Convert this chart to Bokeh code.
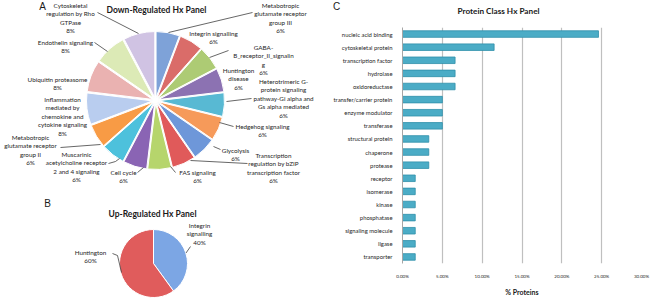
import math
from bokeh.plotting import figure
from bokeh.layouts import row, column
from bokeh.models import Range1d, PrintfTickFormatter
from bokeh.embed import file_html
from bokeh.resources import INLINE
from bokeh.core.properties import value

# ---------------- data ----------------
down_labels = [
    ["Metabotropic", "glutamate receptor", "group III", "6%"],
    ["Integrin signalling", "6%"],
    ["GABA-", "B_receptor_II_signalin", "g", "6%"],
    ["Huntington", "disease", "6%"],
    ["Heterotrimeric G-", "protein signaling", "pathway-Gi alpha and", "Gs alpha mediated", "6%"],
    ["Hedgehog signaling", "6%"],
    ["Glycolysis", "6%"],
    ["Transcription", "regulation by bZIP", "transcription factor", "6%"],
    ["FAS signaling", "6%"],
    ["Cell cycle", "6%"],
    ["Muscarinic", "acetylcholine receptor", "2 and 4 signaling", "6%"],
    ["Metabotropic", "glutamate receptor", "group II", "6%"],
    ["Inflammation", "mediated by", "chemokine and", "cytokine signaling", "8%"],
    ["Ubiquitin proteasome", "8%"],
    ["Endothelin signaling", "8%"],
    ["Cytoskeletal", "regulation by Rho", "GTPase", "8%"],
]
down_values = [3, 3, 3, 3, 3, 3, 3, 3, 3, 3, 3, 3, 4, 4, 4, 4]
down_colors = ["#7EA2D8", "#DA6C69", "#ADCB74", "#8C72B2", "#58B9D3", "#F69A5A",
               "#6E97D9", "#E05A5A", "#B6D56C", "#8A64B4", "#4DC1DC", "#F89B45",
               "#B9CDEF", "#EAB2B1", "#DCEAB6", "#D0C3E3"]

up_labels = [["Integrin", "signalling", "40%"], ["Huntington", "60%"]]
up_values = [40, 60]
up_colors = ["#7CA6E4", "#E05C5C"]

classes = ["nucleic acid binding", "cytoskeletal protein", "transcription factor",
           "hydrolase", "oxidoreductase", "transfer/carrier protein",
           "enzyme modulator", "transferase", "structural protein", "chaperone",
           "protease", "receptor", "isomerase", "kinase", "phosphatase",
           "signaling molecule", "ligase", "transporter"]
class_pct = [24.6, 11.5, 6.6, 6.6, 6.6, 5.0, 5.0, 5.0, 3.3, 3.3, 3.3,
             1.6, 1.6, 1.6, 1.6, 1.6, 1.6, 1.6]
x_ticks = [0, 5, 10, 15, 20, 25, 30]

FONT = value("Lato")
TXT = "#262626"

# ---------------- layout helpers ----------------
down_label_pos = [  # (center x, first line y) in panel pixels (y down)
    (280, 5), (213, 33), (263, 47), (238, 70), (283, 81), (262, 126),
    (235, 150), (273, 155), (197, 172), (123, 172), (76, 154), (30, 137),
    (62, 99), (57, 79), (65, 42), (70, 5)]
down_leaders = [
    [(252, 12), (168, 32)], None, [(228, 50), (209, 57)], None,
    [(251, 98), (226, 101)], [(233, 126), (219, 122)], [(220, 149), (213, 146)],
    [(247, 163), (190, 160)], [(175, 172), (170, 166)], [(137, 172), (143, 167)],
    [(108, 163), (115, 161), (119, 158)], [(60, 147), (100, 144)],
    None, None, [(94, 42), (107, 51)], [(97, 12), (138, 33)]]
up_label_pos = [(199, 35), (90, 62)]
up_leaders = [[(190, 56), (185.5, 62.5)], [(112, 63), (117, 65), (121, 82)]]


def blank(w, h):
    p = figure(width=w, height=h, x_range=Range1d(0, w), y_range=Range1d(0, h),
               output_backend="svg", toolbar_location=None, min_border=0,
               x_axis_type=None, y_axis_type=None)
    p.outline_line_color = None
    p.xgrid.visible = False
    p.ygrid.visible = False
    p.background_fill_color = "white"
    return p


def draw_pie(p, H, cx, cy, r, vals, colors, explode):
    total = float(sum(vals))
    cum = 0.0
    xs, ys, a0s, a1s = [], [], [], []
    for v in vals:
        a0 = math.pi / 2 - 2 * math.pi * (cum + v) / total
        a1 = math.pi / 2 - 2 * math.pi * cum / total
        mid = (a0 + a1) / 2
        xs.append(cx + explode * math.cos(mid))
        ys.append(H - cy + explode * math.sin(mid))
        a0s.append(a0)
        a1s.append(a1)
        cum += v
    p.wedge(x=xs, y=ys, radius=r - explode, start_angle=a0s, end_angle=a1s,
            fill_color=colors, line_color="white", line_width=1)


def draw_labels(p, H, labels, pos, leaders, size="6.3px", lh=8.4):
    tx, ty, tt = [], [], []
    for lines, (cx, y0) in zip(labels, pos):
        for i, s in enumerate(lines):
            tx.append(cx)
            ty.append(H - (y0 + i * lh))
            tt.append(s)
    p.text(x=tx, y=ty, text=tt, text_align="center", text_baseline="middle",
           text_font=FONT, text_font_size=size, text_color=TXT)
    lx, ly = [], []
    for ld in leaders:
        if ld:
            lx.append([a for a, b in ld])
            ly.append([H - b for a, b in ld])
    p.multi_line(xs=lx, ys=ly, line_color="#404040", line_width=0.8)


def heading(p, H, x, y, s, size="8.5px"):
    p.text(x=[x], y=[H - y], text=[s], text_align="center", text_baseline="middle",
           text_font=FONT, text_font_size=size, text_font_style="bold",
           text_color="#1a1a1a")


def letter(p, H, x, y, s):
    p.text(x=[x], y=[H - y], text=[s], text_align="center", text_baseline="middle",
           text_font=value("Liberation Sans"), text_font_size="10px",
           text_color="#1a1a1a")


# ---------------- panel A ----------------
HA = 190
pA = blank(330, HA)
draw_pie(pA, HA, 155, 100, 69, down_values, down_colors, 3)
draw_labels(pA, HA, down_labels, down_label_pos, down_leaders)
heading(pA, HA, 156, 9, "Down-Regulated Hx Panel")
letter(pA, HA, 42, 6, "A")

# ---------------- panel B ----------------
HB = 108
pB = blank(330, HB)
draw_pie(pB, HB, 153, 73, 34, up_values, up_colors, 0)
draw_labels(pB, HB, up_labels, up_label_pos, up_leaders)
heading(pB, HB, 152, 23, "Up-Regulated Hx Panel")
letter(pB, HB, 47, 13, "B")

# ---------------- panel C header ----------------
HT = 25
pT = blank(320, HT)
heading(pT, HT, 168, 10, "Protein Class Hx Panel", size="8.2px")
letter(pT, HT, 6, 6, "C")

# ---------------- panel C ----------------
pC = figure(width=320, height=273, y_range=list(reversed(classes)),
            x_range=Range1d(0, 30), output_backend="svg", toolbar_location=None,
            min_border_left=71, min_border_right=9, min_border_top=2,
            min_border_bottom=32)
pC.outline_line_color = None
pC.hbar(y=classes, right=class_pct, left=0, height=0.5,
        fill_color="#4BACC6", line_color="#2F8FAA", line_width=0.8)
pC.ygrid.visible = False
pC.xgrid.grid_line_color = "#BFBFBF"
pC.xgrid.grid_line_width = 1.2
pC.xaxis.ticker = x_ticks
pC.xaxis.formatter = PrintfTickFormatter(format="%.2f%%")
pC.xaxis.axis_line_color = None
pC.xaxis.major_tick_line_color = None
pC.xaxis.minor_tick_line_color = None
pC.xaxis.major_label_text_font = "Lato"
pC.xaxis.major_label_text_font_size = "4.5px"
pC.xaxis.major_label_text_color = TXT
pC.xaxis.major_label_standoff = 4
pC.xaxis.axis_label = "% Proteins"
pC.xaxis.axis_label_text_font = "Lato"
pC.xaxis.axis_label_text_font_size = "7px"
pC.xaxis.axis_label_text_font_style = "bold"
pC.xaxis.axis_label_text_color = "#1a1a1a"
pC.xaxis.axis_label_standoff = 6
pC.yaxis.axis_line_color = "#A6A6A6"
pC.yaxis.major_tick_line_color = None
pC.yaxis.minor_tick_line_color = None
pC.yaxis.major_label_text_font = "Lato"
pC.yaxis.major_label_text_font_size = "5.9px"
pC.yaxis.major_label_text_color = TXT
pC.yaxis.major_label_standoff = 4

layout = row(column(pA, pB, spacing=0), column(pT, row(pC, spacing=0), spacing=0),
             spacing=0)
open("out.html", "w").write(file_html(layout, INLINE))
